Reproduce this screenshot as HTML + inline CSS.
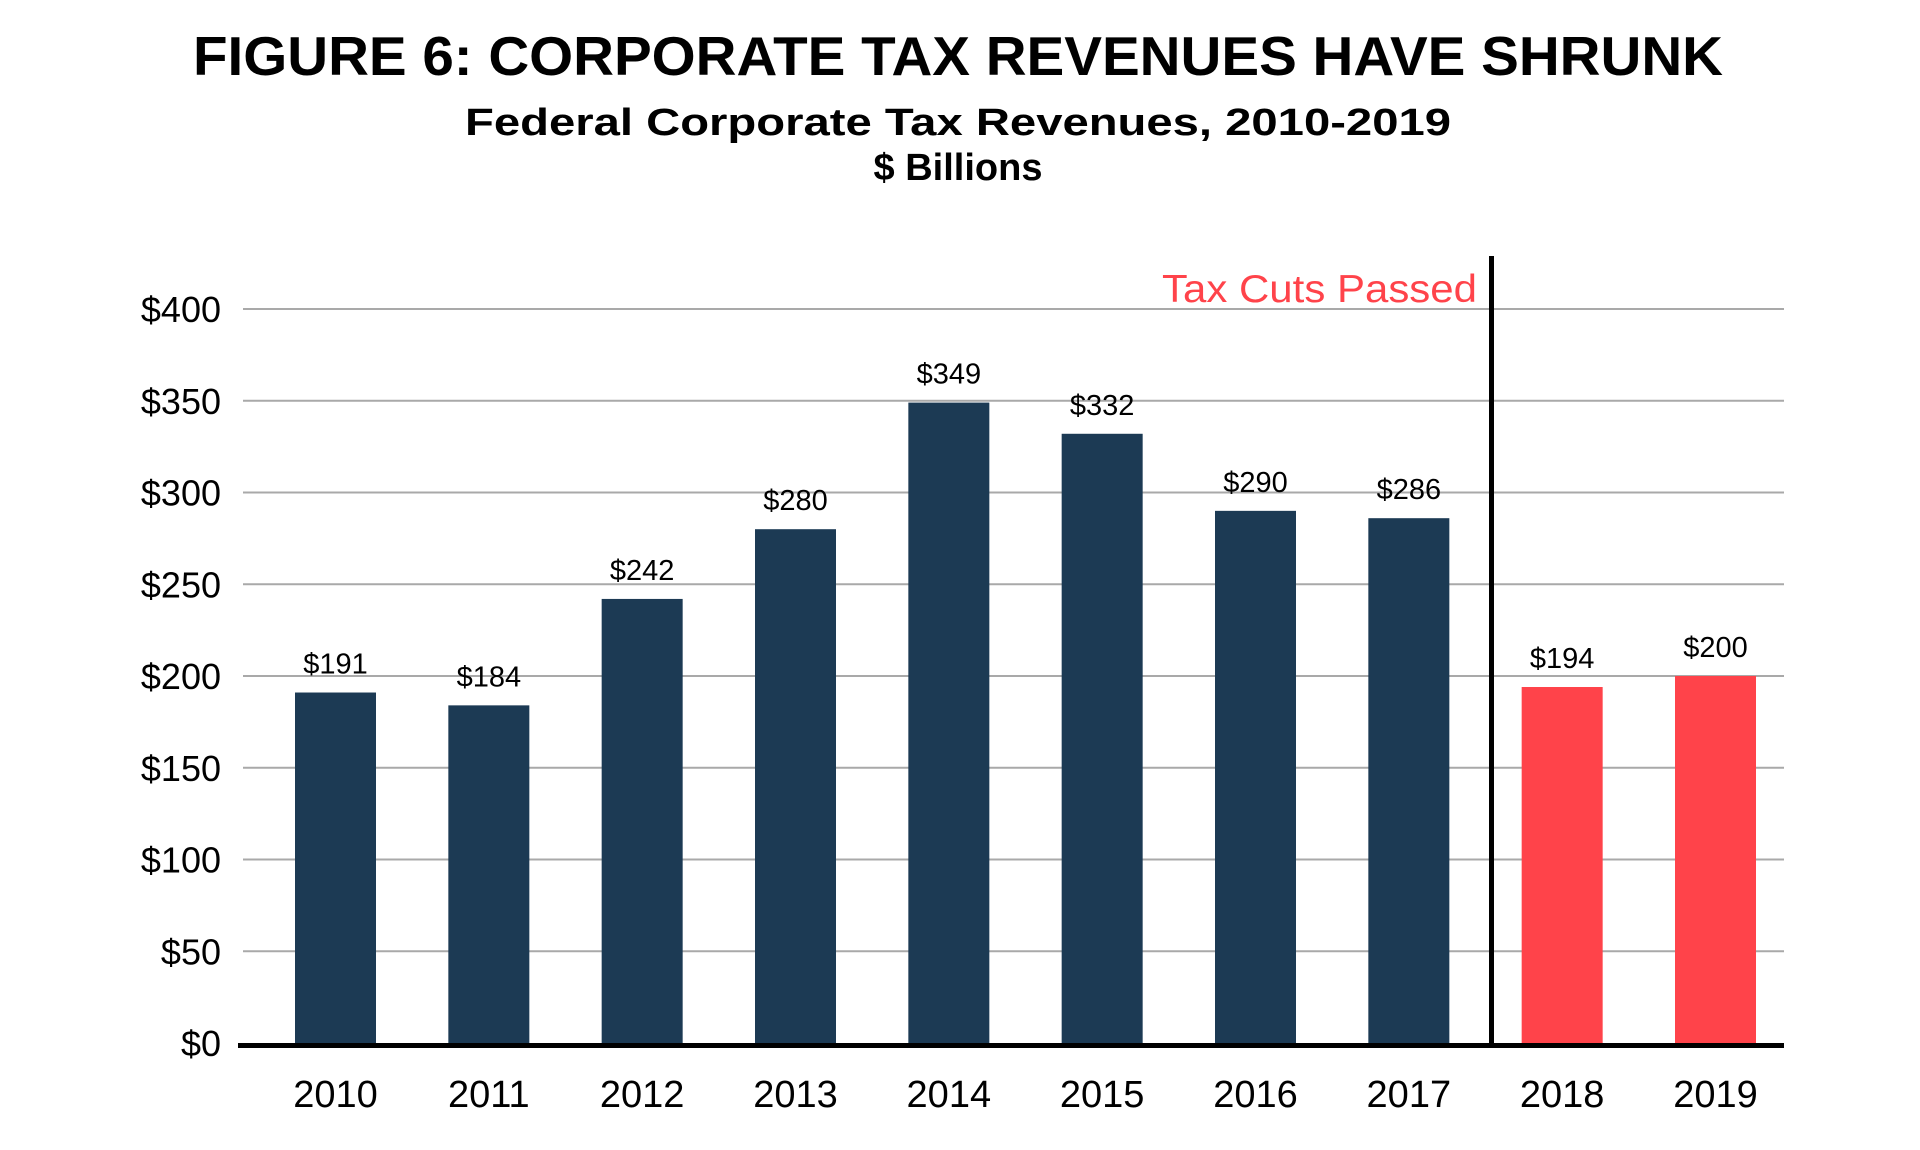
<!DOCTYPE html>
<html><head><meta charset="utf-8"><style>
html,body{margin:0;padding:0;background:#fff;}
svg{display:block;font-family:"Liberation Sans",sans-serif;}
</style></head><body>
<svg id="chart" width="1920" height="1150" viewBox="0 0 1920 1150" xmlns="http://www.w3.org/2000/svg">
<text x="958" y="75" text-anchor="middle" font-size="55" font-weight="bold" textLength="1530" lengthAdjust="spacingAndGlyphs">FIGURE 6: CORPORATE TAX REVENUES HAVE SHRUNK</text>
<text x="958" y="135" text-anchor="middle" font-size="38" font-weight="bold" textLength="986" lengthAdjust="spacingAndGlyphs">Federal Corporate Tax Revenues, 2010-2019</text>
<text x="958" y="180" text-anchor="middle" font-size="38" font-weight="bold">$ Billions</text>
<g id="grid"></g>
<g id="bars"></g>
<g id="labels"></g>
<line x1="1491.5" y1="256" x2="1491.5" y2="1048" stroke="#000" stroke-width="5"/>
<text x="1477" y="302" text-anchor="end" font-size="39" fill="#ff434a" textLength="315" lengthAdjust="spacingAndGlyphs">Tax Cuts Passed</text>
<line x1="238" y1="1045.5" x2="1784" y2="1045.5" stroke="#000" stroke-width="5"/>
</svg>
<script>
const categories = ["2010","2011","2012","2013","2014","2015","2016","2017","2018","2019"];
const values = [191,184,242,280,349,332,290,286,194,200];
const afterCut = [false,false,false,false,false,false,false,false,true,true];
const yTicks = [0,50,100,150,200,250,300,350,400];
const yTickLabels = ["$0","$50","$100","$150","$200","$250","$300","$350","$400"];

const NS="http://www.w3.org/2000/svg";
const y0=1043, y400=309;
function yScale(v){return y0-(y0-y400)*v/400;}
const barW=81, firstLeft=295, step=(1675-295)/9;
function xLeft(i){return firstLeft+i*step;}
function mk(tag,attrs,parent,text){const e=document.createElementNS(NS,tag);for(const k in attrs)e.setAttribute(k,attrs[k]);if(text!==undefined)e.textContent=text;parent.appendChild(e);return e;}
const grid=document.getElementById('grid'), bars=document.getElementById('bars'), labels=document.getElementById('labels');
yTicks.forEach((t,i)=>{
  const y=yScale(t);
  if(t>0){
    const l=mk('line',{x1:243,x2:1784,y1:y,y2:y,stroke:'#a9a9a9','stroke-width':2},grid);
    
    
  }
  const tx=mk('text',{x:221,y:y+13,'text-anchor':'end','font-size':36,fill:'#000'},labels,yTickLabels[i]);
  
  
});
categories.forEach((c,i)=>{
  const x=xLeft(i), y=yScale(values[i]);
  const r=mk('rect',{x:x,y:y,width:barW,height:y0-y+1,fill:afterCut[i]?'#ff434a':'#1c3a54'},bars);
  
  
  const v=mk('text',{x:x+barW/2,y:y-19,'text-anchor':'middle','font-size':29,fill:'#000'},labels,'$'+values[i]);
  
  
  const xl=mk('text',{x:x+barW/2,y:1107,'text-anchor':'middle','font-size':38,fill:'#000'},labels,c);
  
  
});
</script>
</body></html>
